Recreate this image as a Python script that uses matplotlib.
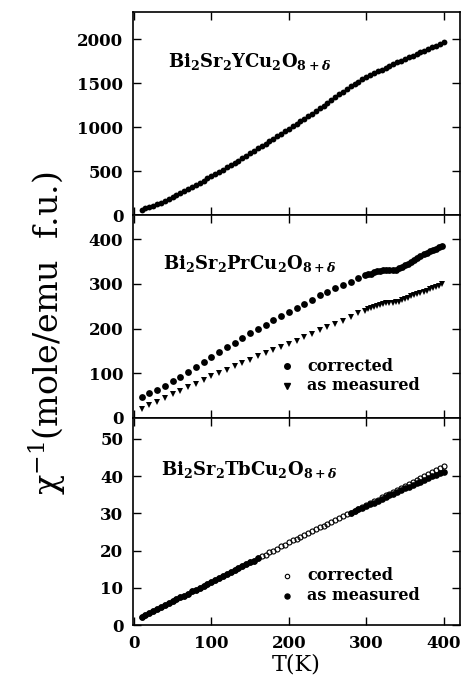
import matplotlib
matplotlib.use("Agg")
import matplotlib.pyplot as plt

plt.rcParams['font.family'] = ['DejaVu Serif']
plt.rcParams['font.weight'] = 'bold'
plt.rcParams['mathtext.fontset'] = 'dejavuserif'

# ---------------- data ----------------
# Bi2Sr2YCu2O8+d
T_Y = list(range(10, 405, 5))
chi_Y = [60, 74, 88, 105, 122, 141, 160, 181, 202, 224, 246, 269, 292, 316, 340, 365,
         390, 416, 443, 467, 492, 517, 542, 567, 592, 618, 645, 672, 700, 728, 756, 784,
         812, 840, 868, 895, 923, 950, 978, 1006, 1035, 1064, 1093, 1122, 1152, 1182,
         1213, 1244, 1275, 1306, 1338, 1370, 1402, 1432, 1462, 1490, 1517, 1542, 1565,
         1588, 1610, 1632, 1653, 1674, 1695, 1715, 1735, 1754, 1773, 1792, 1811, 1831,
         1850, 1869, 1888, 1907, 1926, 1945, 1963]

# Bi2Sr2PrCu2O8+d
T_Pr = [10, 20, 30, 40, 50, 60, 70, 80, 90, 100, 110, 120, 130, 140, 150, 160, 170,
        180, 190, 200, 210, 220, 230, 240, 250, 260, 270, 280, 290,
        298, 302, 306, 310, 314, 318, 322, 326, 330, 334, 338, 342, 346, 350, 354,
        358, 362, 366, 370, 374, 378, 382, 386, 390, 394, 398]
chi_Pr_corr = [47, 55, 63, 72, 82, 92, 103, 114, 125, 136, 147, 158, 168, 179, 189,
               199, 209, 219, 229, 238, 247, 256, 265, 274, 282, 290, 298, 305, 312,
               319, 321, 323, 326, 328, 329, 330, 330, 331, 331, 332, 335, 338, 342,
               345, 349, 353, 357, 362, 366, 370, 373, 376, 379, 382, 385]
chi_Pr_meas = [20, 28, 36, 45, 53, 61, 69, 77, 85, 93, 101, 108, 116, 123, 130, 138,
               145, 152, 159, 166, 173, 181, 188, 196, 203, 211, 218, 226, 234,
               240, 243, 246, 248, 250, 253, 255, 257, 258, 258, 259, 260, 263, 266,
               269, 272, 274, 277, 279, 282, 285, 288, 291, 293, 296, 299]

# Bi2Sr2TbCu2O8+d
T_Tb = list(range(10, 405, 5))
chi_Tb_corr = [2.2, 2.7, 3.2, 3.8, 4.3, 4.8, 5.3, 5.9, 6.4, 6.9, 7.4, 7.9, 8.4, 9.0,
               9.5, 10.0, 10.5, 11.0, 11.5, 12.1, 12.6, 13.1, 13.7, 14.2, 14.7, 15.2,
               15.8, 16.3, 16.8, 17.3, 17.9, 18.4, 18.9, 19.5, 20.0, 20.5, 21.1, 21.6,
               22.2, 22.7, 23.2, 23.7, 24.2, 24.7, 25.2, 25.7, 26.2, 26.7, 27.2, 27.7,
               28.2, 28.7, 29.2, 29.7, 30.2, 30.7, 31.2, 31.7, 32.2, 32.7, 33.2, 33.7,
               34.3, 34.8, 35.3, 35.8, 36.3, 36.9, 37.4, 37.9, 38.4, 38.9, 39.5, 40.0,
               40.5, 41.0, 41.6, 42.1, 42.6]
T_Tb_meas = list(range(10, 165, 5)) + list(range(280, 405, 5))
chi_Tb_meas = [2.2, 2.7, 3.2, 3.8, 4.3, 4.8, 5.3, 5.9, 6.4, 6.9, 7.4, 7.9, 8.4, 9.0,
               9.5, 10.0, 10.5, 11.0, 11.5, 12.1, 12.6, 13.1, 13.7, 14.2, 14.7, 15.2,
               15.8, 16.3, 16.8, 17.3, 17.9,
               30.1, 30.6, 31.1, 31.5, 32.0, 32.4, 32.9, 33.4, 33.9, 34.3, 34.8, 35.3,
               35.7, 36.2, 36.7, 37.1, 37.6, 38.1, 38.5, 39.0, 39.5, 39.9, 40.4, 40.8,
               41.2]

x_ticks = [0, 100, 200, 300, 400]
y_ticks_Y = [0, 500, 1000, 1500, 2000]
y_ticks_Pr = [0, 100, 200, 300, 400]
y_ticks_Tb = [0, 10, 20, 30, 40, 50]

# ---------------- figure ----------------
W, H = 462, 683
fig = plt.figure(figsize=(W / 100, H / 100), dpi=100)
left = 133 / W
width = 327 / W
ax1 = fig.add_axes([left, 1 - 215 / H, width, 203 / H])
ax2 = fig.add_axes([left, 1 - 418 / H, width, 203 / H])
ax3 = fig.add_axes([left, 1 - 625 / H, width, 207 / H])

for ax in (ax1, ax2, ax3):
    ax.set_xlim(-1, 421)
    ax.set_xticks(x_ticks)
    ax.tick_params(direction='in', length=6, width=1.0, top=True, right=True,
                   labelsize=12, pad=7)
    for s in ax.spines.values():
        s.set_linewidth(1.2)
for ax in (ax1, ax2):
    ax.tick_params(labelbottom=False)

# top panel
ax1.plot(T_Y, chi_Y, 'o', color='black', markersize=4.2, markeredgewidth=0)
ax1.set_ylim(0, 2307)
ax1.set_yticks(y_ticks_Y)
ax1.text(0.107, 0.754, r'Bi$_\mathbf{2}$Sr$_\mathbf{2}$YCu$_\mathbf{2}$O$_{\mathbf{8+}\delta}$',
         transform=ax1.transAxes, fontsize=13, va='center', ha='left')

# middle panel
ax2.plot(T_Pr, chi_Pr_corr, 'o', color='black', markersize=4.9, markeredgewidth=0)
ax2.plot(T_Pr, chi_Pr_meas, 'v', color='black', markersize=4.6, markeredgewidth=0)
ax2.set_ylim(0, 454)
ax2.set_yticks(y_ticks_Pr)
ax2.text(0.092, 0.76, r'Bi$_\mathbf{2}$Sr$_\mathbf{2}$PrCu$_\mathbf{2}$O$_{\mathbf{8+}\delta}$',
         transform=ax2.transAxes, fontsize=13, va='center', ha='left')
ax2.plot([0.471], [0.256], 'o', color='black', markersize=4.0, transform=ax2.transAxes)
ax2.plot([0.471], [0.158], 'v', color='black', markersize=3.8, transform=ax2.transAxes)
ax2.text(0.532, 0.256, 'corrected', transform=ax2.transAxes, fontsize=11.5, va='center')
ax2.text(0.532, 0.158, 'as measured', transform=ax2.transAxes, fontsize=11.5, va='center')

# bottom panel
ax3.plot(T_Tb, chi_Tb_corr, 'o', markerfacecolor='none', markeredgecolor='black',
         markersize=3.6, markeredgewidth=0.8)
ax3.plot(T_Tb_meas, chi_Tb_meas, 'o', color='black', markersize=4.8, markeredgewidth=0)
ax3.set_ylim(0, 55.6)
ax3.set_yticks(y_ticks_Tb)
ax3.text(0.086, 0.75, r'Bi$_\mathbf{2}$Sr$_\mathbf{2}$TbCu$_\mathbf{2}$O$_{\mathbf{8+}\delta}$',
         transform=ax3.transAxes, fontsize=13, va='center', ha='left')
ax3.plot([0.471], [0.238], 'o', markerfacecolor='none', markeredgecolor='black',
         markersize=3.2, markeredgewidth=0.8, transform=ax3.transAxes)
ax3.plot([0.471], [0.141], 'o', color='black', markersize=3.6, transform=ax3.transAxes)
ax3.text(0.532, 0.238, 'corrected', transform=ax3.transAxes, fontsize=11.5, va='center')
ax3.text(0.532, 0.141, 'as measured', transform=ax3.transAxes, fontsize=11.5, va='center')
ax3.set_xlabel('T(K)', fontsize=16, labelpad=1)

fig.text(47 / W, 1 - 333 / H, r'χ$^{\mathregular{-1}}$(mole/emu  f.u.)', rotation=90,
         fontsize=24, fontweight='normal', ha='center', va='center')

fig.savefig('out.png', dpi=100)
